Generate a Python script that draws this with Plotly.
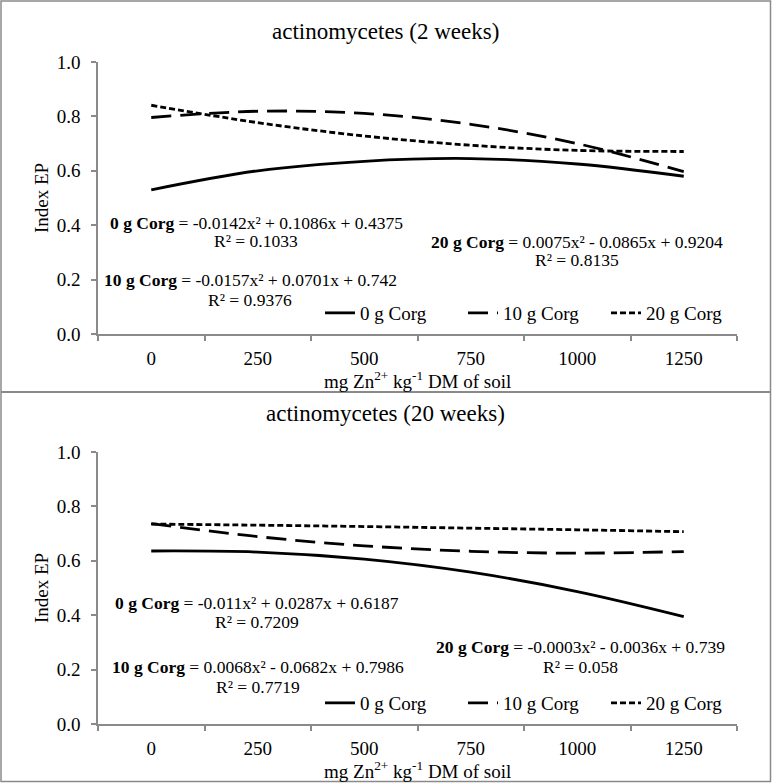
import plotly.graph_objects as go

W, H = 772, 783

# ---- data ----
doses = ["0", "250", "500", "750", "1000", "1250"]
series_names = ["0 g Corg", "10 g Corg", "20 g Corg"]

w2_0g = [0.53, 0.60, 0.635, 0.645, 0.625, 0.58]
w2_10g = [0.796, 0.819, 0.811, 0.771, 0.70, 0.597]
w2_20g = [0.841, 0.777, 0.728, 0.694, 0.675, 0.671]

w20_0g = [0.636, 0.632, 0.606, 0.558, 0.487, 0.395]
w20_10g = [0.737, 0.689, 0.655, 0.635, 0.628, 0.634]
w20_20g = [0.735, 0.731, 0.726, 0.720, 0.714, 0.707]

titles = ["actinomycetes (2 weeks)", "actinomycetes (20 weeks)"]
eq_2w = [
    ("<b>0 g Corg</b> = -0.0142x² + 0.1086x + 0.4375", "R² = 0.1033"),
    ("<b>10 g Corg</b> = -0.0157x² + 0.0701x + 0.742", "R² = 0.9376"),
    ("<b>20 g Corg</b> = 0.0075x² - 0.0865x + 0.9204", "R² = 0.8135"),
]
eq_20w = [
    ("<b>0 g Corg</b> = -0.011x² + 0.0287x + 0.6187", "R² = 0.7209"),
    ("<b>10 g Corg</b> = 0.0068x² - 0.0682x + 0.7986", "R² = 0.7719"),
    ("<b>20 g Corg</b> = -0.0003x² - 0.0036x + 0.739", "R² = 0.058"),
]

FONT = "Liberation Serif"
GRAY = "#8a8a8a"


def px(x):
    return x / W


def py(y):
    return 1 - y / H


dashes = ["solid", "20px,9px", "6px,3px"]

fig = go.Figure()

panels = [
    dict(data=[w2_0g, w2_10g, w2_20g], eqs=eq_2w, off=0, xa="x", ya="y", leg="legend", title_y=32),
    dict(data=[w20_0g, w20_10g, w20_20g], eqs=eq_20w, off=390, xa="x2", ya="y2", leg="legend2", title_y=413),
]

# equation anchor positions (pixel centres) per panel: (line1 y, line2 y, x)
eq_pos = [
    [(223, 241, 256), (280, 300, 250), (242, 260, 577)],
    [(603, 622, 257), (667, 687, 258), (647, 667, 580)],
]

annotations = []
for i, p in enumerate(panels):
    for j, (name, vals) in enumerate(zip(series_names, p["data"])):
        fig.add_trace(go.Scatter(
            x=doses, y=vals, mode="lines", name=name,
            line=dict(color="black", width=2.8, dash=dashes[j], shape="spline", smoothing=1.0),
            xaxis=p["xa"], yaxis=p["ya"], legend=p["leg"],
        ))
    annotations.append(dict(text=titles[i], x=px(385.5), y=py(p["title_y"]), xref="paper", yref="paper",
                            showarrow=False, font=dict(size=23, family=FONT, color="black"),
                            xanchor="center", yanchor="middle"))
    annotations.append(dict(text="Index EP", x=px(41), y=py(198 + p["off"]), xref="paper", yref="paper",
                            showarrow=False, textangle=-90, font=dict(size=19, family=FONT, color="black"),
                            xanchor="center", yanchor="middle"))
    annotations.append(dict(text="mg Zn<sup>2+</sup> kg<sup>-1</sup> DM of soil", x=px(417.5),
                            y=py(380 + p["off"]), xref="paper", yref="paper", showarrow=False,
                            font=dict(size=19, family=FONT, color="black"), xanchor="center", yanchor="middle"))
    for (l1, l2), (y1, y2, xc) in zip(p["eqs"], eq_pos[i]):
        annotations.append(dict(text=l1, x=px(xc), y=py(y1), xref="paper", yref="paper", showarrow=False,
                                font=dict(size=17.5, family=FONT, color="black"),
                                xanchor="center", yanchor="middle"))
        annotations.append(dict(text=l2, x=px(xc), y=py(y2), xref="paper", yref="paper", showarrow=False,
                                font=dict(size=17.5, family=FONT, color="black"),
                                xanchor="center", yanchor="middle"))

xax = dict(type="category", range=[-0.5, 5.5], showline=True, linecolor=GRAY, linewidth=1.5,
           ticks="outside", tickson="boundaries", ticklen=5, tickcolor=GRAY, tickwidth=1.5,
           showgrid=False, zeroline=False, tickfont=dict(size=19, family=FONT, color="black"),
           ticklabelstandoff=6, domain=[px(98), px(737)], fixedrange=True, automargin=False)
yax = dict(range=[0, 1], dtick=0.2, tickformat=".1f", showline=True, linecolor=GRAY, linewidth=1.5,
           ticks="outside", ticklen=5, tickcolor=GRAY, tickwidth=1.5, showgrid=False, zeroline=False,
           tickfont=dict(size=19, family=FONT, color="black"), ticklabelstandoff=7, fixedrange=True,
           automargin=False)

leg = dict(orientation="h", xanchor="right", yanchor="middle", font=dict(size=19, family=FONT, color="black"),
           bgcolor="rgba(0,0,0,0)", itemwidth=30, tracegroupgap=0, entrywidth=98)

shapes = [
    dict(type="rect", xref="paper", yref="paper", x0=px(1), x1=px(770.5), y0=py(1), y1=py(781.5),
         line=dict(color=GRAY, width=1.5)),
    dict(type="line", xref="paper", yref="paper", x0=px(1), x1=px(770.5), y0=py(392), y1=py(392),
         line=dict(color=GRAY, width=2)),
]

fig.update_layout(
    width=W, height=H, margin=dict(l=0, r=0, t=0, b=0, autoexpand=False),
    paper_bgcolor="white", plot_bgcolor="white",
    font=dict(family=FONT, color="black"),
    xaxis=dict(xax, anchor="y"),
    yaxis=dict(yax, anchor="x", domain=[py(334), py(62)]),
    xaxis2=dict(xax, anchor="y2"),
    yaxis2=dict(yax, anchor="x2", domain=[py(724), py(452)]),
    legend=dict(leg, x=px(749), y=py(313)),
    legend2=dict(leg, x=px(749), y=py(703)),
    annotations=annotations,
    shapes=shapes,
    showlegend=True,
)

fig.write_html(
    "out.html",
    config={"displayModeBar": False, "responsive": False},
    post_script="document.body.style.margin='0';document.body.style.overflow='hidden';",
)
